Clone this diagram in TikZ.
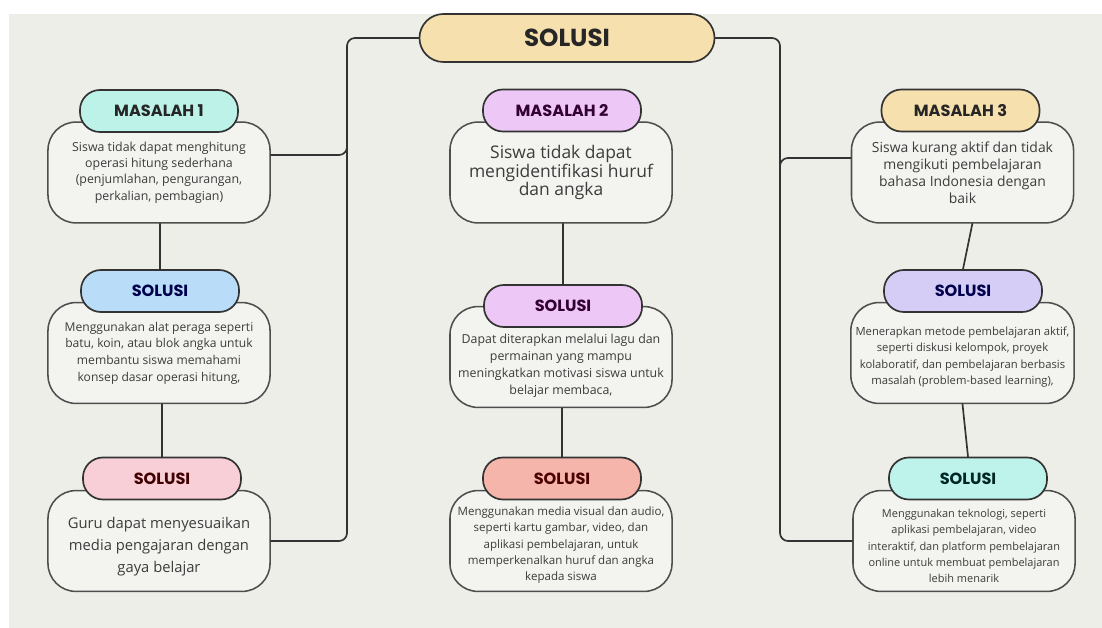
\documentclass[tikz,border=0pt]{standalone}
\usepackage{fontspec}
\setmainfont{Open Sans}
\newfontfamily\headfont{Poppins}
\definecolor{bgc}{HTML}{EEEEE9}
\definecolor{cardfill}{HTML}{F3F3EF}
\definecolor{cardline}{HTML}{4E4E4E}
\definecolor{linec}{HTML}{333333}
\definecolor{bodyc}{HTML}{3C3C3C}
\definecolor{beigep}{HTML}{F6E0AE}
\definecolor{cyanp}{HTML}{BCF2E7}
\definecolor{bluep}{HTML}{B9DDF8}
\definecolor{pinkp}{HTML}{F8CFD7}
\definecolor{violetp}{HTML}{EDC7F6}
\definecolor{salmonp}{HTML}{F5B5AA}
\definecolor{lavenderp}{HTML}{D6CDF7}
\definecolor{mintp}{HTML}{BDF3EA}
\newcommand\padtop[1]{\rule{0pt}{#1}}
\begin{document}
\begin{tikzpicture}[x=0.025cm, y=-0.025cm, line join=round, line cap=round,
	pill/.style={draw=linec, line width=1.2pt, rounded corners=0.5cm, minimum width=3.95cm, minimum height=1.05cm, font=\headfont\bfseries\fontsize{11.5}{13}\selectfont},
	card/.style={draw=cardline, line width=1.1pt, fill=cardfill, rounded corners=0.7cm, minimum width=5.55cm, minimum height=2.52cm, align=center, text=bodyc},
	wire/.style={draw=linec, line width=1.2pt, rounded corners=0.2cm}]
	\useasboundingbox (0,0) rectangle (1102,628);
	\fill[white] (0,0) rectangle (1102,628);
	\fill[bgc] (9,14) rectangle (1102,628);
	% bus corners
	\coordinate (lcorner) at (347,541);
	\coordinate (lbranch) at (347,155);
	\coordinate (rcorner) at (780,541);
	\coordinate (rbranch) at (780,158);
	% cards
	\node[card, font=\fontsize{8.8}{11.6}\selectfont] (l1) at (159,172.5) {Siswa tidak dapat menghitung\\operasi hitung sederhana\\(penjumlahan, pengurangan,\\perkalian, pembagian)};
	\node[card, font=\fontsize{8.6}{11.8}\selectfont] (l2) at (159,353) {Menggunakan alat peraga seperti\\batu, koin, atau blok angka untuk\\membantu siswa memahami\\konsep dasar operasi hitung,};
	\node[card, font=\fontsize{10.5}{15.4}\selectfont] (l3) at (159,541) {\padtop{16pt}Guru dapat menyesuaikan\\media pengajaran dengan\\gaya belajar};
	\node[card, font=\fontsize{12.4}{13.4}\selectfont] (m1) at (561,172.5) {Siswa tidak dapat\\mengidentifikasi huruf\\dan angka};
	\node[card, font=\fontsize{8.8}{12}\selectfont] (m2) at (561,357) {\padtop{19pt}Dapat diterapkan melalui lagu dan\\permainan yang mampu\\meningkatkan motivasi siswa untuk\\belajar membaca,};
	\node[card, font=\fontsize{8.2}{11.6}\selectfont] (m3) at (561,541) {\padtop{12pt}Menggunakan media visual dan audio,\\seperti kartu gambar, video, dan\\aplikasi pembelajaran, untuk\\memperkenalkan huruf dan angka\\kepada siswa};
	\node[card, font=\fontsize{9.9}{12.1}\selectfont] (r1) at (962.5,172.5) {Siswa kurang aktif dan tidak\\mengikuti pembelajaran\\bahasa Indonesia dengan\\baik};
	\node[card, font=\fontsize{8}{11.8}\selectfont] (r2) at (962.5,353) {\padtop{12pt}Menerapkan metode pembelajaran aktif,\\seperti diskusi kelompok, proyek\\kolaboratif, dan pembelajaran berbasis\\masalah (problem-based learning),};
	\node[card, font=\fontsize{7.8}{11.7}\selectfont] (r3) at (964,541) {\padtop{13pt}Menggunakan teknologi, seperti\\aplikasi pembelajaran, video\\interaktif, dan platform pembelajaran\\online untuk membuat pembelajaran\\lebih menarik};
	% headers
	\node[pill, fill=beigep, text=black!85, minimum width=7.375cm, minimum height=1.2cm, rounded corners=0.6cm, font=\headfont\bfseries\fontsize{17.5}{19}\selectfont] (top) at (567,38) {SOLUSI};
	\node[pill, fill=cyanp, text=black!85] (lp1) at (159,111) {MASALAH 1};
	\node[pill, fill=bluep, text=blue!30!black] (lp2) at (160,291) {SOLUSI};
	\node[pill, fill=pinkp, text=red!25!black] (lp3) at (162,478.5) {SOLUSI};
	\node[pill, fill=violetp, text=violet!40!black] (mp1) at (562,110.5) {MASALAH 2};
	\node[pill, fill=violetp, text=violet!40!black] (mp2) at (563,306) {SOLUSI};
	\node[pill, fill=salmonp, text=red!30!black] (mp3) at (562,478.5) {SOLUSI};
	\node[pill, fill=beigep, text=black!85] (rp1) at (960.5,110.5) {MASALAH 3};
	\node[pill, fill=lavenderp, text=blue!30!black] (rp2) at (963,291) {SOLUSI};
	\node[pill, fill=mintp, text=teal!30!black] (rp3) at (968,478.5) {SOLUSI};
	% connectors
	\draw[wire] (top.west) -| (lcorner) -- (l3.east);
	\draw[wire] (l1.east |- lbranch) -- (lbranch) -- ++(0,-12);
	\draw[wire] (top.east) -| (rcorner) -- (r3.west);
	\draw[wire] (r1.west |- rbranch) -- (rbranch) -- ++(0,12);
	\draw[wire] (l1.south -| lp2.north) -- (lp2.north);
	\draw[wire] (l2.south -| lp3.north) -- (lp3.north);
	\draw[wire] (m1.south -| mp2.north) -- (mp2.north);
	\draw[wire] (m2.south -| mp3.north) -- (mp3.north);
	\draw[wire] ([xshift=7]r1.south) -- (rp2.north);
	\draw[wire] (r2.south) -- (rp3.north);
\end{tikzpicture}
\end{document}
